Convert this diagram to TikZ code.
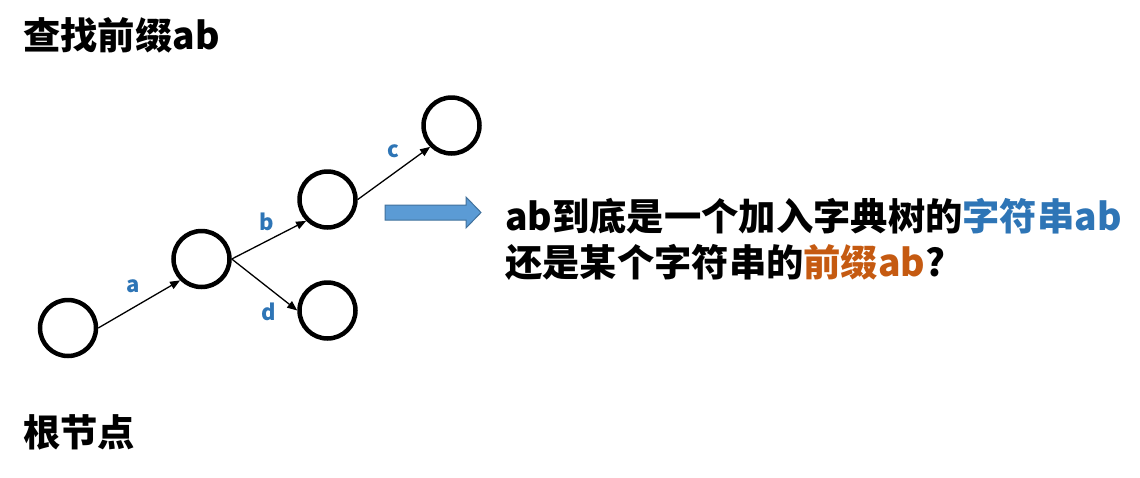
\documentclass[tikz,border=0pt]{standalone}
\usepackage{fontspec}
\setmainfont{Noto Sans CJK SC}
\usetikzlibrary{arrows.meta}
\definecolor{tblue}{HTML}{2E75B6}
\definecolor{torange}{HTML}{C55A11}
\definecolor{afill}{HTML}{5B9BD5}
\definecolor{aline}{HTML}{41719C}
\tikzset{
  trie/.style={circle, draw=black, line width=4.5pt, minimum size=56pt, inner sep=0pt},
  edge/.style={line width=1.3pt, -{Triangle[length=10pt,width=8pt]}},
  elabel/.style={font=\fontsize{22}{22}\selectfont\bfseries, text=tblue, inner sep=0pt, anchor=base},
  bigtext/.style={font=\fontsize{37.3}{37.3}\selectfont\bfseries, inner sep=0pt, anchor=base west}
}
\begin{document}
\begin{tikzpicture}[x=1pt,y=-1pt]
\useasboundingbox[fill=white] (0,0) rectangle (1140,477);
\node[trie] (r) at (68,328) {};
\node[trie] (n1) at (201.5,259) {};
\node[trie] (n2) at (327.5,199.5) {};
\node[trie] (n3) at (451.5,125.5) {};
\node[trie] (n4) at (327.5,310.5) {};
\draw[edge] (r.east) -- (n1.south west);
\draw[edge] (n1.east) -- (n2.south west);
\draw[edge] (n2.east) -- (n3.south west);
\draw[edge] (n1.east) -- (n4.west);
\node[elabel] (la) at (133,292) {a};
\node[elabel] (lb) at (267,230) {b};
\node[elabel] (lc) at (393,157) {c};
\node[elabel] (ld) at (269,320) {d};
\draw[fill=afill, draw=aline, line width=1pt] (385,205) -- (466,205) -- (466,197) -- (481,212.5) -- (466,228) -- (466,220) -- (385,220) -- cycle;
\node[bigtext] (t1) at (505,230) {ab到底是一个加入字典树的\textcolor{tblue}{字符串ab}};
\node[bigtext] (t2) at (505,276) {还是某个字符串的\textcolor{torange}{前缀ab}?};
\node[bigtext] (title) at (23,49) {查找前缀ab};
\node[bigtext] (root) at (23,446) {根节点};
\end{tikzpicture}
\end{document}
